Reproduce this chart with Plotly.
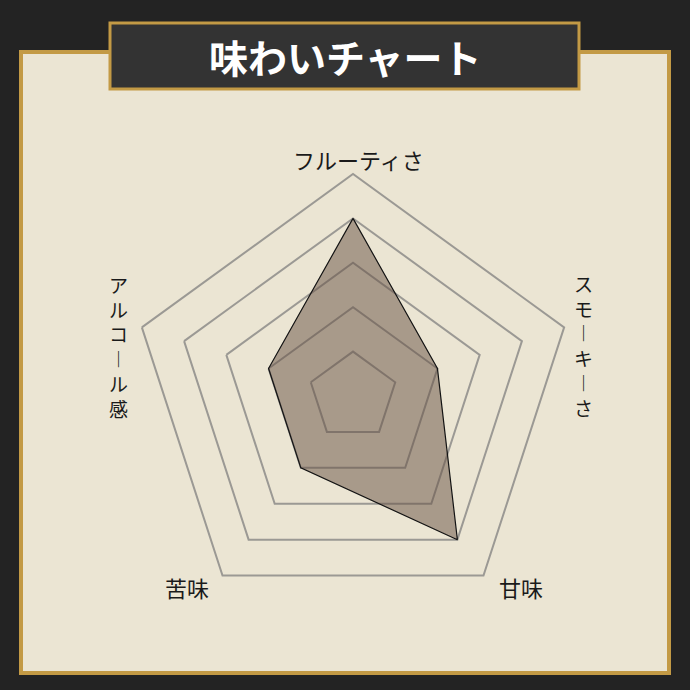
import plotly.graph_objects as go

W = H = 690

# data
categories = ["フルーティさ", "スモーキーさ", "甘味", "苦味", "アルコール感"]
values = [4, 2, 4, 2, 2]
levels = [1, 2, 3, 4, 5]
title_text = "味わいチャート"

# label placement (pixels from top-left) and whether the label is written vertically
label_pos = [(359, 159, False), (583, 345, True), (521, 587, False), (187, 587, False), (118, 347, True)]

FONT = "Noto Sans CJK JP"
GOLD = "#c39a45"
GRID = "#9b9994"


def px(x, y):
    """pixel coords (top-left origin) -> paper coords"""
    return x / W, 1 - y / H


def to_vertical(label):
    # stack characters, long vowel mark turned upright
    return "<br>".join("︱" if ch == "ー" else ch for ch in label)


fig = go.Figure()

fig.add_trace(
    go.Scatterpolar(
        r=values + values[:1],
        theta=categories + categories[:1],
        mode="lines",
        fill="toself",
        fillcolor="rgba(101,79,65,0.5)",
        line=dict(color="#141414", width=1.2),
        hoverinfo="skip",
    )
)

# polar area: centre (353, 396), outer radius 222 px
cx, cy, R = 353, 396, 222
x0, y1 = px(cx - R, cy - R)
x1, y0 = px(cx + R, cy + R)

shapes = []
# cream panel with gold frame
px0, py1 = px(21, 52)
px1, py0 = px(669, 673)
shapes.append(dict(type="rect", xref="paper", yref="paper", x0=px0, x1=px1, y0=py0, y1=py1,
                   fillcolor="#ebe5d3", line=dict(color=GOLD, width=4), layer="below"))
# title banner
bx0, by1 = px(110, 23)
bx1, by0 = px(579, 89)
shapes.append(dict(type="rect", xref="paper", yref="paper", x0=bx0, x1=bx1, y0=by0, y1=by1,
                   fillcolor="#333333", line=dict(color=GOLD, width=3), layer="below"))

annotations = []
tx, ty = px(345, 56)
annotations.append(dict(text="<b>" + title_text + "</b>", x=tx, y=ty, xref="paper", yref="paper",
                        showarrow=False, xanchor="center", yanchor="middle",
                        font=dict(family=FONT, size=39, color="#ffffff")))

for label, (lx, ly, vertical) in zip(categories, label_pos):
    ax, ay = px(lx, ly)
    annotations.append(dict(
        text=to_vertical(label) if vertical else label,
        x=ax, y=ay, xref="paper", yref="paper",
        showarrow=False, xanchor="center", yanchor="middle",
        font=dict(family=FONT, size=19 if vertical else 22, color="#1a1a1a"),
    ))

fig.update_layout(
    width=W,
    height=H,
    margin=dict(l=0, r=0, t=0, b=0),
    paper_bgcolor="#232323",
    showlegend=False,
    shapes=shapes,
    annotations=annotations,
    polar=dict(
        domain=dict(x=[x0, x1], y=[y0, y1]),
        bgcolor="rgba(0,0,0,0)",
        gridshape="linear",
        radialaxis=dict(
            range=[0, 5],
            tickvals=levels,
            showticklabels=False,
            ticks="",
            showline=False,
            gridcolor=GRID,
            gridwidth=2,
        ),
        angularaxis=dict(
            rotation=90,
            direction="clockwise",
            showticklabels=False,
            ticks="",
            showgrid=False,
            linecolor=GRID,
            linewidth=2,
        ),
    ),
)

fig.write_html(
    "out.html",
    config={"displayModeBar": False},
    post_script="document.body.style.margin='0';document.body.style.background='#232323';",
)
